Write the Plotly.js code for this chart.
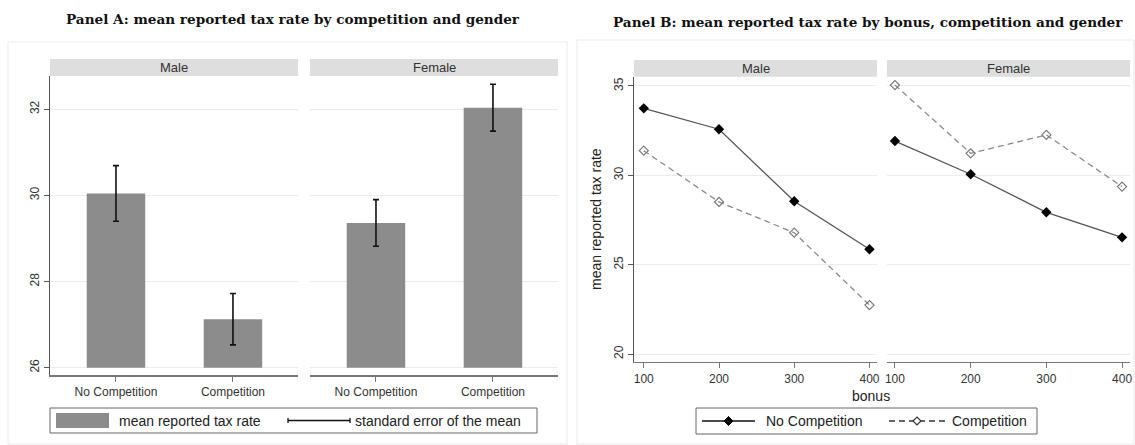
<!DOCTYPE html>
<html>
<head>
<meta charset="utf-8">
<script src="https://cdn.plot.ly/plotly-3.0.1.min.js"></script>
<style>html,body{margin:0;padding:0;background:#fff;}#chart{width:1135px;height:445px;}</style>
</head>
<body>
<div id="chart"></div>
<script>
// ---- Data ----
const categories = ['No Competition', 'Competition'];
const maleMean = [30.045, 27.125];
const maleSE = [0.645, 0.595];
const femaleMean = [29.36, 32.035];
const femaleSE = [0.54, 0.545];

const bonus = [100, 200, 300, 400];
const maleNoComp = [33.75, 32.58, 28.55, 25.86];
const maleComp = [31.38, 28.51, 26.79, 22.74];
const femaleNoComp = [31.92, 30.06, 27.93, 26.53];
const femaleComp = [35.05, 31.23, 32.26, 29.37];

const panelTitles = ['Panel A: mean reported tax rate by competition and gender',
                     'Panel B: mean reported tax rate by bonus, competition and gender'];
const genders = ['Male', 'Female'];
const seriesNames = ['No Competition', 'Competition'];
const legendA = ['mean reported tax rate', 'standard error of the mean'];
const yTitleB = 'mean reported tax rate';
const xTitleB = 'bonus';

// ---- Helpers ----
const W = 1135, H = 445;
const px = x => x / W;
const py = y => 1 - y / H;
const BASE = 26;
const barColor = '#8c8c8c';
const FONT = 'Liberation Sans, Arial, sans-serif';

function barTrace(means, se, xa, ya) {
  return {
    type: 'bar', x: categories, y: means.map(v => v - BASE), base: BASE,
    xaxis: xa, yaxis: ya, width: 0.5,
    marker: {color: barColor, line: {width: 0}},
    error_y: {type: 'data', array: se, visible: true, color: '#111', thickness: 1.6, width: 3},
    hoverinfo: 'skip'
  };
}
function lineTrace(y, xa, ya, solid) {
  return {
    type: 'scatter', mode: 'lines+markers', x: bonus, y: y, xaxis: xa, yaxis: ya,
    line: solid ? {color: '#555', width: 1.3} : {color: '#8a8a8a', width: 1.3, dash: '6px,4px'},
    marker: solid ? {symbol: 'diamond', size: 8, color: '#000'} :
                    {symbol: 'diamond-open', size: 7, color: '#7a7a7a', line: {width: 1.2, color: '#7a7a7a'}},
    hoverinfo: 'skip'
  };
}

const data = [
  barTrace(maleMean, maleSE, 'x', 'y'),
  barTrace(femaleMean, femaleSE, 'x2', 'y2'),
  lineTrace(maleNoComp, 'x3', 'y3', true),
  lineTrace(maleComp, 'x3', 'y3', false),
  lineTrace(femaleNoComp, 'x4', 'y4', true),
  lineTrace(femaleComp, 'x4', 'y4', false)
];

const tickFont = {family: FONT, size: 12, color: '#333'};
function xCat(domain, anchor) {
  return {domain: domain, anchor: anchor, type: 'category', range: [-0.564, 1.556],
    showline: true, linecolor: '#777', linewidth: 1.5, ticks: 'outside', ticklen: 5, tickcolor: '#777',
    showgrid: false, zeroline: false, tickfont: tickFont, fixedrange: true};
}
function xNum(domain, anchor, range) {
  return {domain: domain, anchor: anchor, range: range, tickvals: bonus,
    showline: true, linecolor: '#777', linewidth: 1.5, ticks: 'outside', ticklen: 5, tickcolor: '#777',
    showgrid: false, zeroline: false, tickfont: tickFont, fixedrange: true};
}
function yMain(domain, anchor, range, tickvals) {
  return {domain: domain, anchor: anchor, range: range, tickvals: tickvals, tickangle: -90,
    showline: true, linecolor: '#555', linewidth: 1.2, ticks: 'outside', ticklen: 5, tickcolor: '#555',
    showgrid: true, gridcolor: '#ececec', gridwidth: 1, zeroline: false, tickfont: tickFont, fixedrange: true};
}
function ySub(domain, anchor, match, tickvals) {
  return {domain: domain, anchor: anchor, matches: match, tickvals: tickvals,
    showline: false, ticks: '', showticklabels: false,
    showgrid: true, gridcolor: '#ececec', gridwidth: 1, zeroline: false, fixedrange: true};
}

const yDomA = [py(375), py(76)];
const yDomB = [py(361.7), py(76.7)];

const shapes = [];
const annotations = [];

// outer panel frames
shapes.push({type: 'rect', xref: 'paper', yref: 'paper', x0: px(8), x1: px(567), y0: py(444), y1: py(42),
  line: {color: '#ebebeb', width: 1}, fillcolor: 'rgba(0,0,0,0)', layer: 'below'});
shapes.push({type: 'rect', xref: 'paper', yref: 'paper', x0: px(577), x1: px(1134), y0: py(444), y1: py(40),
  line: {color: '#ebebeb', width: 1}, fillcolor: 'rgba(0,0,0,0)', layer: 'below'});

// strips
const strips = [[50, 298, 59, 76, 0], [310, 558, 59, 76, 1], [634, 877, 60, 76.7, 0], [887, 1130, 60, 76.7, 1]];
strips.forEach(s => {
  shapes.push({type: 'rect', xref: 'paper', yref: 'paper', x0: px(s[0]), x1: px(s[1]), y0: py(s[3]), y1: py(s[2]),
    fillcolor: '#dedede', line: {width: 0}});
  annotations.push({xref: 'paper', yref: 'paper', x: px((s[0] + s[1]) / 2), y: py((s[2] + s[3]) / 2),
    text: genders[s[4]], showarrow: false, xanchor: 'center', yanchor: 'middle',
    font: {family: FONT, size: 13, color: '#333'}});
});

// panel titles
annotations.push({xref: 'paper', yref: 'paper', x: px(293), y: py(19), text: '<b>' + panelTitles[0] + '</b>',
  showarrow: false, xanchor: 'center', yanchor: 'middle', font: {family: 'DejaVu Serif, serif', size: 13.6, color: '#111'}});
annotations.push({xref: 'paper', yref: 'paper', x: px(868), y: py(22), text: '<b>' + panelTitles[1] + '</b>',
  showarrow: false, xanchor: 'center', yanchor: 'middle', font: {family: 'DejaVu Serif, serif', size: 13.6, color: '#111'}});

// axis titles for panel B
annotations.push({xref: 'paper', yref: 'paper', x: px(596), y: py(219), text: yTitleB, textangle: -90,
  showarrow: false, xanchor: 'center', yanchor: 'middle', font: {family: FONT, size: 14, color: '#222'}});
annotations.push({xref: 'paper', yref: 'paper', x: px(871), y: py(396), text: xTitleB,
  showarrow: false, xanchor: 'center', yanchor: 'middle', font: {family: FONT, size: 14, color: '#222'}});

// legend A
shapes.push({type: 'rect', xref: 'paper', yref: 'paper', x0: px(50), x1: px(537), y0: py(433), y1: py(408),
  line: {color: '#666', width: 1}, fillcolor: '#fff'});
shapes.push({type: 'rect', xref: 'paper', yref: 'paper', x0: px(56), x1: px(109), y0: py(428), y1: py(413),
  line: {width: 0}, fillcolor: barColor});
shapes.push({type: 'line', xref: 'paper', yref: 'paper', x0: px(288), x1: px(350), y0: py(420.5), y1: py(420.5),
  line: {color: '#111', width: 1.3}});
[288, 350].forEach(xx => shapes.push({type: 'line', xref: 'paper', yref: 'paper', x0: px(xx), x1: px(xx),
  y0: py(418), y1: py(423), line: {color: '#111', width: 1.3}}));
annotations.push({xref: 'paper', yref: 'paper', x: px(117), y: py(420.5), text: legendA[0], showarrow: false,
  xanchor: 'left', yanchor: 'middle', font: {family: FONT, size: 14, color: '#222'}});
annotations.push({xref: 'paper', yref: 'paper', x: px(353), y: py(420.5), text: legendA[1], showarrow: false,
  xanchor: 'left', yanchor: 'middle', font: {family: FONT, size: 14, color: '#222'}});

// legend B
shapes.push({type: 'rect', xref: 'paper', yref: 'paper', x0: px(696), x1: px(1037), y0: py(434), y1: py(408),
  line: {color: '#666', width: 1}, fillcolor: '#fff'});
shapes.push({type: 'line', xref: 'paper', yref: 'paper', x0: px(702), x1: px(755), y0: py(421), y1: py(421),
  line: {color: '#111', width: 1.3}});
shapes.push({type: 'line', xref: 'paper', yref: 'paper', x0: px(889), x1: px(945), y0: py(421), y1: py(421),
  line: {color: '#333', width: 1.3, dash: '6px,4px'}});
function diamondPath(cx, cy, r) {
  return 'M' + px(cx - r) + ',' + py(cy) + ' L' + px(cx) + ',' + py(cy - r) + ' L' + px(cx + r) + ',' + py(cy) +
         ' L' + px(cx) + ',' + py(cy + r) + ' Z';
}
shapes.push({type: 'path', xref: 'paper', yref: 'paper', path: diamondPath(728.5, 421, 4.5), fillcolor: '#000', line: {color: '#000', width: 1}});
shapes.push({type: 'path', xref: 'paper', yref: 'paper', path: diamondPath(917, 421, 4), fillcolor: '#fff', line: {color: '#333', width: 1.2}});
annotations.push({xref: 'paper', yref: 'paper', x: px(764), y: py(421), text: seriesNames[0], showarrow: false,
  xanchor: 'left', yanchor: 'middle', font: {family: FONT, size: 14, color: '#222'}});
annotations.push({xref: 'paper', yref: 'paper', x: px(950), y: py(421), text: seriesNames[1], showarrow: false,
  xanchor: 'left', yanchor: 'middle', font: {family: FONT, size: 14, color: '#222'}});

const layout = {
  width: W, height: H, margin: {l: 0, r: 0, t: 0, b: 0},
  paper_bgcolor: '#fff', plot_bgcolor: '#fff', showlegend: false,
  font: {family: FONT, size: 12, color: '#333'},
  xaxis: xCat([px(50), px(298)], 'y'),
  yaxis: yMain(yDomA, 'x', [25.83, 32.77], [26, 28, 30, 32]),
  xaxis2: xCat([px(310), px(558)], 'y2'),
  yaxis2: ySub(yDomA, 'x2', 'y', [26, 28, 30, 32]),
  xaxis3: xNum([px(634), px(877)], 'y3', [87, 410]),
  yaxis3: yMain(yDomB, 'x3', [19.57, 35.52], [20, 25, 30, 35]),
  xaxis4: xNum([px(887), px(1130)], 'y4', [89.5, 410.5]),
  yaxis4: ySub(yDomB, 'x4', 'y3', [20, 25, 30, 35]),
  shapes: shapes, annotations: annotations
};

Plotly.newPlot('chart', data, layout, {displayModeBar: false, staticPlot: true});
</script>
</body>
</html>
